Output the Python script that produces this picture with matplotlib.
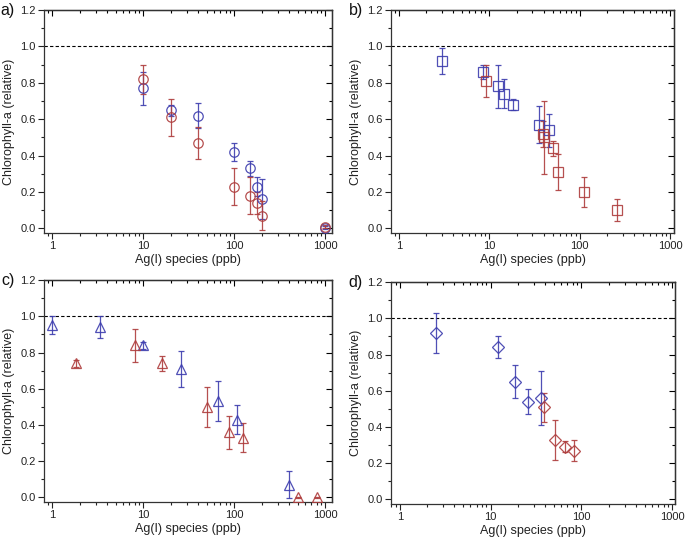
import numpy as np
import matplotlib
matplotlib.use("Agg")
import matplotlib.pyplot as plt
from matplotlib.ticker import FixedLocator, MultipleLocator, NullFormatter, FormatStrFormatter

# panel a (circles)
a_blue_x = [10, 20, 40, 100, 150, 175, 200, 1000]
a_blue_y = [0.77, 0.65, 0.62, 0.42, 0.33, 0.23, 0.16, 0.005]
a_blue_e = [0.09, 0.03, 0.07, 0.05, 0.04, 0.05, 0.11, 0.01]
a_red_x = [10, 20, 40, 100, 150, 175, 200, 1000]
a_red_y = [0.82, 0.61, 0.47, 0.23, 0.18, 0.14, 0.07, 0.01]
a_red_e = [0.08, 0.10, 0.09, 0.10, 0.10, 0.06, 0.08, 0.01]

# panel b (squares)
b_blue_x = [3, 8.6, 12.5, 14.7, 18.5, 35, 46]
b_blue_y = [0.92, 0.86, 0.78, 0.74, 0.68, 0.57, 0.54]
b_blue_e = [0.07, 0.04, 0.12, 0.08, 0.03, 0.10, 0.09]
b_red_x = [9.3, 39, 40, 50, 58, 112, 260]
b_red_y = [0.81, 0.52, 0.50, 0.44, 0.31, 0.20, 0.10]
b_red_e = [0.09, 0.07, 0.20, 0.04, 0.10, 0.08, 0.06]

# panel c (triangles)
c_blue_x = [1, 3.3, 10, 26, 66, 108, 395]
c_blue_y = [0.95, 0.94, 0.84, 0.71, 0.53, 0.43, 0.07]
c_blue_e = [0.05, 0.06, 0.02, 0.10, 0.11, 0.08, 0.075]
c_red_x = [1.82, 8, 16, 50, 87, 124, 505, 803]
c_red_y = [0.74, 0.84, 0.74, 0.50, 0.36, 0.33, 0.0, 0.0]
c_red_e = [0.02, 0.09, 0.04, 0.11, 0.09, 0.08, 0.005, 0.005]

# panel d (diamonds)
d_blue_x = [2.5, 12.1, 18.5, 26, 36]
d_blue_y = [0.92, 0.84, 0.65, 0.54, 0.56]
d_blue_e = [0.11, 0.06, 0.09, 0.07, 0.15]
d_red_x = [39, 51, 66, 82]
d_red_y = [0.51, 0.33, 0.29, 0.27]
d_red_e = [0.08, 0.11, 0.03, 0.06]

BLUE = '#3d3dae'
RED = '#ae3d3d'

plt.rcParams['font.family'] = ['Liberation Sans', 'DejaVu Sans']
fig = plt.figure(figsize=(6.85, 5.41), dpi=100)

panels = [
    ('a)', [0.0642, 0.5693, 0.4205, 0.4122], (0.81, 1180), 'o',
     (a_blue_x, a_blue_y, a_blue_e), (a_red_x, a_red_y, a_red_e)),
    ('b)', [0.5708, 0.5693, 0.4132, 0.4122], (0.82, 1100), 's',
     (b_blue_x, b_blue_y, b_blue_e), (b_red_x, b_red_y, b_red_e)),
    ('c)', [0.0642, 0.0721, 0.4205, 0.4103], (0.81, 1180), '^',
     (c_blue_x, c_blue_y, c_blue_e), (c_red_x, c_red_y, c_red_e)),
    ('d)', [0.5708, 0.0684, 0.4146, 0.4103], (0.80, 1070), 'D',
     (d_blue_x, d_blue_y, d_blue_e), (d_red_x, d_red_y, d_red_e)),
]

minor_x = [m * 10 ** k for k in range(-1, 4) for m in range(2, 10)]

for label, rect, xl, mk, blue, red in panels:
    ax = fig.add_axes(rect)
    ax.set_xscale('log')
    ms = 6.8 if mk != 'D' else 6
    for (x, y, e), c in [(blue, BLUE), (red, RED)]:
        ax.errorbar(x, y, yerr=e, fmt=mk, mfc='none', mec=c, ms=ms, mew=0.9,
                    ecolor=c, elinewidth=0.9, capsize=2.5, capthick=0.9,
                    alpha=0.9, zorder=3)
    ax.axhline(1.0, color='black', ls=(0, (3, 2)), lw=0.8, zorder=1)
    ax.set_xlim(*xl)
    ax.set_ylim(-0.025, 1.2)
    ax.yaxis.set_major_locator(MultipleLocator(0.2))
    ax.yaxis.set_minor_locator(MultipleLocator(0.1))
    ax.yaxis.set_major_formatter(FormatStrFormatter('%.1f'))
    ax.xaxis.set_major_locator(FixedLocator([1, 10, 100, 1000]))
    ax.set_xticklabels(['1', '10', '100', '1000'])
    ax.xaxis.set_minor_locator(FixedLocator(minor_x))
    ax.xaxis.set_minor_formatter(NullFormatter())
    ax.tick_params(axis='both', which='both', labelsize=8, width=0.8,
                   colors='#222222')
    ax.tick_params(axis='both', which='major', direction='out', length=4, pad=2)
    ax.tick_params(axis='both', which='minor', direction='out', length=2)
    for sp in ax.spines.values():
        sp.set_linewidth(0.9)
        sp.set_color('#333333')

    # mirrored ticks on top and right, pointing in
    sec_x = ax.secondary_xaxis('top')
    sec_x.xaxis.set_major_locator(FixedLocator([1, 10, 100, 1000]))
    sec_x.xaxis.set_minor_locator(FixedLocator(minor_x))
    sec_x.tick_params(which='major', direction='in', length=4, width=0.8)
    sec_x.tick_params(which='minor', direction='in', length=2, width=0.8)
    sec_x.set_xticklabels([])
    sec_x.xaxis.set_minor_formatter(NullFormatter())
    sec_x.spines['top'].set_linewidth(0.9)
    sec_y = ax.secondary_yaxis('right')
    sec_y.yaxis.set_major_locator(MultipleLocator(0.2))
    sec_y.yaxis.set_minor_locator(MultipleLocator(0.1))
    sec_y.tick_params(which='major', direction='in', length=4, width=0.8)
    sec_y.tick_params(which='minor', direction='in', length=2, width=0.8)
    sec_y.set_yticklabels([])
    sec_y.spines['right'].set_linewidth(0.9)

    ax.set_xlabel('Ag(I) species (ppb)', fontsize=9, labelpad=2, color='#222222')
    ax.set_ylabel('Chlorophyll-a (relative)', fontsize=9, labelpad=4, color='#222222')
    ax.text(-0.125, 1.0, label, transform=ax.transAxes, fontsize=11.5,
            ha='center', va='center', color='#111111')

fig.savefig('out.png', dpi=100)
